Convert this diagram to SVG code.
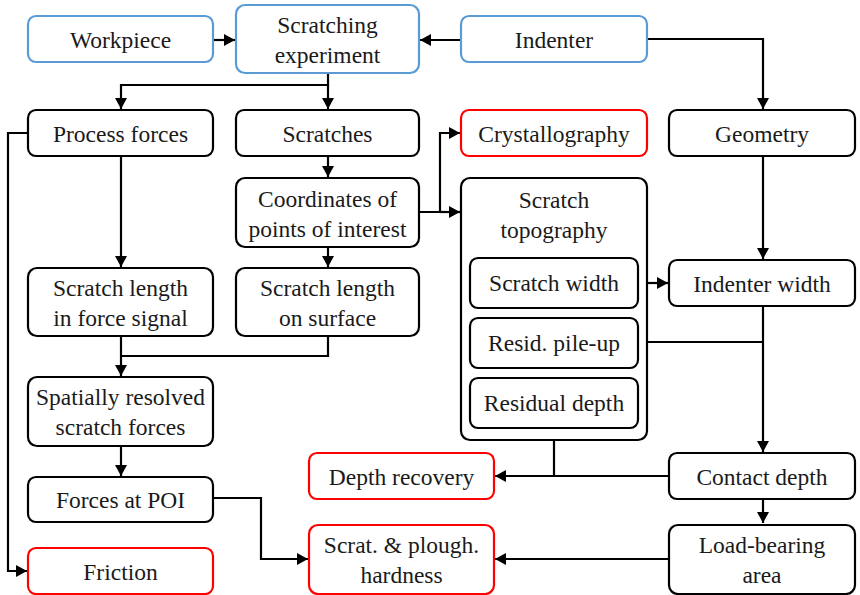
<svg xmlns="http://www.w3.org/2000/svg" width="860" height="595" viewBox="0 0 860 595">
<style>
rect{fill:#fff;stroke:#000;stroke-width:2.2}
.b{stroke:#5b9bd5}
.r{stroke:#ff0000}
#connectors path{fill:none;stroke:#000;stroke-width:2.2}
</style>
<defs>
<marker id="ah" markerUnits="userSpaceOnUse" markerWidth="11" markerHeight="12" refX="11" refY="6" orient="auto" viewBox="0 0 11 12">
<path d="M0,0 L11,6 L0,12 z" fill="#000"/>
</marker>
</defs>
<g id="connectors">
<path d="M213,40 H235" marker-end="url(#ah)"/>
<path d="M461,40 H420" marker-end="url(#ah)"/>
<path d="M647,39 H763 V109" marker-end="url(#ah)"/>
<path d="M328,74 V85 H121 V109" marker-end="url(#ah)"/>
<path d="M328,85 V109" marker-end="url(#ah)"/>
<path d="M328,156 V177" marker-end="url(#ah)"/>
<path d="M419,212 H440 V133 H460" marker-end="url(#ah)"/>
<path d="M440,212 H460" marker-end="url(#ah)"/>
<path d="M328,247 V267" marker-end="url(#ah)"/>
<path d="M121,156 V267" marker-end="url(#ah)"/>
<path d="M121,336 V376" marker-end="url(#ah)"/>
<path d="M328,336 V356 H121"/>
<path d="M121,446 V476" marker-end="url(#ah)"/>
<path d="M28,133 H8 V571 H27" marker-end="url(#ah)"/>
<path d="M213,498 H261 V559 H308" marker-end="url(#ah)"/>
<path d="M763,156 V259" marker-end="url(#ah)"/>
<path d="M638,283 H668" marker-end="url(#ah)"/>
<path d="M638,342 H763"/>
<path d="M763,306 V452" marker-end="url(#ah)"/>
<path d="M669,476 H495" marker-end="url(#ah)"/>
<path d="M554,428 V476"/>
<path d="M763,499 V523" marker-end="url(#ah)"/>
<path d="M669,559 H495" marker-end="url(#ah)"/>
</g>
<g id="workpiece"><rect class="b" x="28" y="16" width="185" height="46" rx="8"/><text style="font-family:'Liberation Serif',serif;font-size:23.5px;fill:#1a1a1a;text-anchor:middle" x="120.5" y="48">Workpiece</text></g>
<g id="scratching-experiment"><rect class="b" x="236" y="5" width="183" height="68" rx="9"/><text style="font-family:'Liberation Serif',serif;font-size:23.5px;fill:#1a1a1a;text-anchor:middle" x="327.5" y="33">Scratching</text><text style="font-family:'Liberation Serif',serif;font-size:23.5px;fill:#1a1a1a;text-anchor:middle" x="327.5" y="63">experiment</text></g>
<g id="indenter"><rect class="b" x="461" y="16" width="186" height="46" rx="8"/><text style="font-family:'Liberation Serif',serif;font-size:23.5px;fill:#1a1a1a;text-anchor:middle" x="554" y="48">Indenter</text></g>
<g id="process-forces"><rect x="28" y="110" width="185" height="46" rx="8"/><text style="font-family:'Liberation Serif',serif;font-size:23.5px;fill:#1a1a1a;text-anchor:middle" x="120.5" y="142">Process forces</text></g>
<g id="scratches"><rect x="236" y="110" width="183" height="46" rx="8"/><text style="font-family:'Liberation Serif',serif;font-size:23.5px;fill:#1a1a1a;text-anchor:middle" x="327.5" y="142">Scratches</text></g>
<g id="crystallography"><rect class="r" x="461" y="110" width="186" height="46" rx="8"/><text style="font-family:'Liberation Serif',serif;font-size:23.5px;fill:#1a1a1a;text-anchor:middle" x="554" y="142">Crystallography</text></g>
<g id="geometry"><rect x="669" y="110" width="186" height="46" rx="8"/><text style="font-family:'Liberation Serif',serif;font-size:23.5px;fill:#1a1a1a;text-anchor:middle" x="762" y="142">Geometry</text></g>
<g id="coordinates"><rect x="236" y="178" width="183" height="69" rx="9"/><text style="font-family:'Liberation Serif',serif;font-size:23.5px;fill:#1a1a1a;text-anchor:middle" x="327.5" y="207">Coordinates of</text><text style="font-family:'Liberation Serif',serif;font-size:23.5px;fill:#1a1a1a;text-anchor:middle" x="327.5" y="237">points of interest</text></g>
<g id="scratch-topography"><rect x="461" y="178" width="186" height="262" rx="9"/><text style="font-family:'Liberation Serif',serif;font-size:23.5px;fill:#1a1a1a;text-anchor:middle" x="554" y="208">Scratch</text><text style="font-family:'Liberation Serif',serif;font-size:23.5px;fill:#1a1a1a;text-anchor:middle" x="554" y="238">topography</text></g>
<g id="scratch-width"><rect x="470" y="258" width="168" height="50" rx="8"/><text style="font-family:'Liberation Serif',serif;font-size:23.5px;fill:#1a1a1a;text-anchor:middle" x="554" y="291">Scratch width</text></g>
<g id="resid-pile-up"><rect x="470" y="318" width="168" height="50" rx="8"/><text style="font-family:'Liberation Serif',serif;font-size:23.5px;fill:#1a1a1a;text-anchor:middle" x="554" y="351">Resid. pile-up</text></g>
<g id="residual-depth"><rect x="470" y="378" width="168" height="50" rx="8"/><text style="font-family:'Liberation Serif',serif;font-size:23.5px;fill:#1a1a1a;text-anchor:middle" x="554" y="411">Residual depth</text></g>
<g id="indenter-width"><rect x="669" y="260" width="186" height="46" rx="8"/><text style="font-family:'Liberation Serif',serif;font-size:23.5px;fill:#1a1a1a;text-anchor:middle" x="762" y="292">Indenter width</text></g>
<g id="scratch-length-force"><rect x="28" y="268" width="185" height="68" rx="9"/><text style="font-family:'Liberation Serif',serif;font-size:23.5px;fill:#1a1a1a;text-anchor:middle" x="120.5" y="296">Scratch length</text><text style="font-family:'Liberation Serif',serif;font-size:23.5px;fill:#1a1a1a;text-anchor:middle" x="120.5" y="326">in force signal</text></g>
<g id="scratch-length-surface"><rect x="236" y="268" width="183" height="68" rx="9"/><text style="font-family:'Liberation Serif',serif;font-size:23.5px;fill:#1a1a1a;text-anchor:middle" x="327.5" y="296">Scratch length</text><text style="font-family:'Liberation Serif',serif;font-size:23.5px;fill:#1a1a1a;text-anchor:middle" x="327.5" y="326">on surface</text></g>
<g id="spatially-resolved"><rect x="28" y="377" width="185" height="69" rx="9"/><text style="font-family:'Liberation Serif',serif;font-size:23.5px;fill:#1a1a1a;text-anchor:middle" x="120.5" y="405">Spatially resolved</text><text style="font-family:'Liberation Serif',serif;font-size:23.5px;fill:#1a1a1a;text-anchor:middle" x="120.5" y="435">scratch forces</text></g>
<g id="forces-at-poi"><rect x="28" y="477" width="185" height="45" rx="8"/><text style="font-family:'Liberation Serif',serif;font-size:23.5px;fill:#1a1a1a;text-anchor:middle" x="120.5" y="508">Forces at POI</text></g>
<g id="friction"><rect class="r" x="28" y="548" width="185" height="46" rx="8"/><text style="font-family:'Liberation Serif',serif;font-size:23.5px;fill:#1a1a1a;text-anchor:middle" x="120.5" y="580">Friction</text></g>
<g id="depth-recovery"><rect class="r" x="309" y="453" width="185" height="46" rx="8"/><text style="font-family:'Liberation Serif',serif;font-size:23.5px;fill:#1a1a1a;text-anchor:middle" x="401.5" y="485">Depth recovery</text></g>
<g id="scrat-plough-hardness"><rect class="r" x="309" y="525" width="185" height="69" rx="9"/><text style="font-family:'Liberation Serif',serif;font-size:23.5px;fill:#1a1a1a;text-anchor:middle" x="401.5" y="553">Scrat. &amp; plough.</text><text style="font-family:'Liberation Serif',serif;font-size:23.5px;fill:#1a1a1a;text-anchor:middle" x="401.5" y="583">hardness</text></g>
<g id="contact-depth"><rect x="669" y="453" width="186" height="46" rx="8"/><text style="font-family:'Liberation Serif',serif;font-size:23.5px;fill:#1a1a1a;text-anchor:middle" x="762" y="485">Contact depth</text></g>
<g id="load-bearing-area"><rect x="669" y="525" width="186" height="69" rx="9"/><text style="font-family:'Liberation Serif',serif;font-size:23.5px;fill:#1a1a1a;text-anchor:middle" x="762" y="553">Load-bearing</text><text style="font-family:'Liberation Serif',serif;font-size:23.5px;fill:#1a1a1a;text-anchor:middle" x="762" y="583">area</text></g>
</svg>
